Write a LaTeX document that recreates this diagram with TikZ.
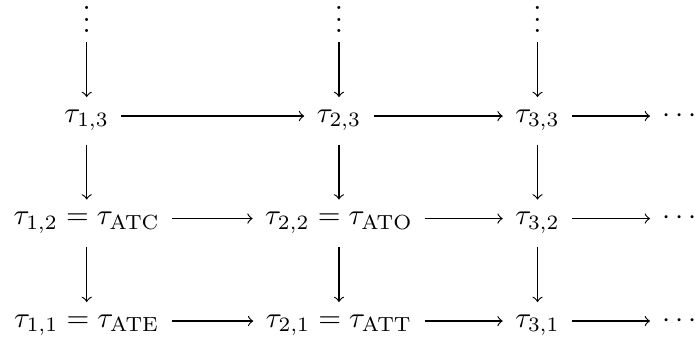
\documentclass[tikz,border=0pt]{standalone}
\usepackage{amsmath}
\usepackage{amssymb}
\usepackage{tikz}

\begin{document}
\begin{tikzpicture}[x=1pt, y=1pt, >=to,
    cell/.style={inner xsep=4.3pt, inner ysep=2.2pt, outer sep=0pt, text height=6.5pt, text depth=2.1pt},
    vdot/.style={inner sep=0pt, outer sep=0pt, text height=9.1pt, text depth=0pt, anchor=south},
    vert/.style={->, shorten <=3.4pt}]
    \useasboundingbox (0,0) rectangle (239.4,-117.8);

    % top dots
    \node[vdot] (dots_1) at (29.7, -11.3) {$\vdots$};
    \node[vdot] (dots_2) at (116.1, -11.3) {$\vdots$};
    \node[vdot] (dots_3) at (184.1, -11.3) {$\vdots$};

    % third row
    \node[cell] (tau_13) at (29.7, -39.75) {$\tau_{1,3}$};
    \node[cell] (tau_23) at (116.1, -39.75) {$\tau_{2,3}$};
    \node[cell] (tau_33) at (184.1, -39.75) {$\tau_{3,3}$};
    \node[cell] (more_3) at (233.6, -39.75) {$\cdots$};

    % second row
    \node[cell] (tau_12) at (29.7, -74.85) {$\tau_{1,2} = \tau_{\mathrm{ATC}}$};
    \node[cell] (tau_22) at (116.1, -74.85) {$\tau_{2,2} = \tau_{\mathrm{ATO}}$};
    \node[cell] (tau_32) at (184.1, -74.85) {$\tau_{3,2}$};
    \node[cell] (more_2) at (233.6, -74.85) {$\cdots$};

    % first row
    \node[cell] (tau_11) at (29.7, -109.95) {$\tau_{1,1} = \tau_{\mathrm{ATE}}$};
    \node[cell] (tau_21) at (116.1, -109.95) {$\tau_{2,1} = \tau_{\mathrm{ATT}}$};
    \node[cell] (tau_31) at (184.1, -109.95) {$\tau_{3,1}$};
    \node[cell] (more_1) at (233.6, -109.95) {$\cdots$};

    % downward maps
    \draw[->, shorten <=3.1pt] (dots_1) -- (tau_13);
    \draw[->, shorten <=3.1pt] (dots_2) -- (tau_23);
    \draw[->, shorten <=3.1pt] (dots_3) -- (tau_33);
    \draw[vert] (tau_13) -- (tau_12);
    \draw[vert] (tau_23) -- (tau_22);
    \draw[vert] (tau_33) -- (tau_32);
    \draw[vert] (tau_12) -- (tau_11);
    \draw[vert] (tau_22) -- (tau_21);
    \draw[vert] (tau_32) -- (tau_31);

    % rightward maps
    \draw[->] (tau_13) -- (tau_23);
    \draw[->] (tau_23) -- (tau_33);
    \draw[->] (tau_33) -- (more_3);
    \draw[->] (tau_12) -- (tau_22);
    \draw[->] (tau_22) -- (tau_32);
    \draw[->] (tau_32) -- (more_2);
    \draw[->] (tau_11) -- (tau_21);
    \draw[->] (tau_21) -- (tau_31);
    \draw[->] (tau_31) -- (more_1);

\end{tikzpicture}
\end{document}
